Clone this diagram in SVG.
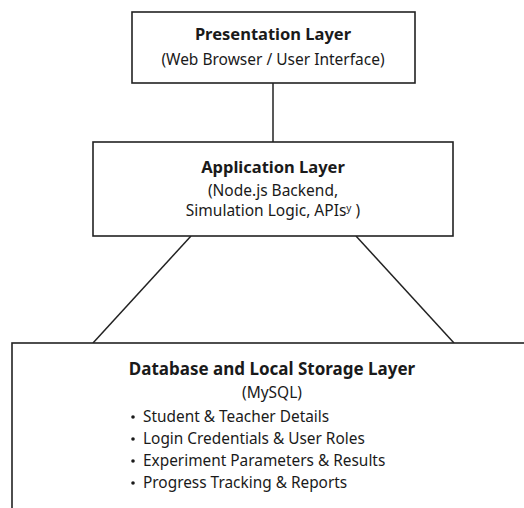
<svg xmlns="http://www.w3.org/2000/svg" width="524" height="508" viewBox="0 0 524 508">
<style>
.box{fill:#fff;stroke:#222;stroke-width:1.6}
.ln{stroke:#222;stroke-width:1.5;fill:none}
text{font-family:"Noto Sans","DejaVu Sans",sans-serif;fill:#1a1a1a}
.t{font-weight:bold;font-size:16.5px;text-anchor:middle}
.s{font-size:15.5px;text-anchor:middle}
.b{font-size:15.4px}
.dot{fill:#1a1a1a}
</style>
<rect width="524" height="508" fill="#fff"/>
<g id="connectors">
<line class="ln" x1="273" y1="83" x2="273" y2="142"/>
<line class="ln" x1="191" y1="236" x2="93" y2="343"/>
<line class="ln" x1="356" y1="236" x2="454" y2="343"/>
</g>
<g id="presentation">
<rect class="box" x="132" y="12" width="283" height="71"/>
<text class="t" x="273" y="40">Presentation Layer</text>
<text class="s" x="273" y="65">(Web Browser / User Interface)</text>
</g>
<g id="application">
<rect class="box" x="93" y="142" width="360" height="94"/>
<text class="t" x="273" y="173">Application Layer</text>
<text class="s" x="273" y="196">(Node.js Backend,</text>
<text class="s" x="273" y="216">Simulation Logic, APIsʸ )</text>
</g>
<g id="database">
<rect class="box" x="12" y="343" width="530" height="180"/>
<text class="t" x="272" y="375" style="font-size:17px">Database and Local Storage Layer</text>
<text class="s" x="272" y="398">(MySQL)</text>
<circle class="dot" cx="133" cy="417" r="1.8"/>
<circle class="dot" cx="133" cy="439" r="1.8"/>
<circle class="dot" cx="133" cy="461" r="1.8"/>
<circle class="dot" cx="133" cy="483" r="1.8"/>
<text class="b" x="143" y="422">Student &amp; Teacher Details</text>
<text class="b" x="143" y="444">Login Credentials &amp; User Roles</text>
<text class="b" x="143" y="466">Experiment Parameters &amp; Results</text>
<text class="b" x="143" y="488">Progress Tracking &amp; Reports</text>
</g>
</svg>
